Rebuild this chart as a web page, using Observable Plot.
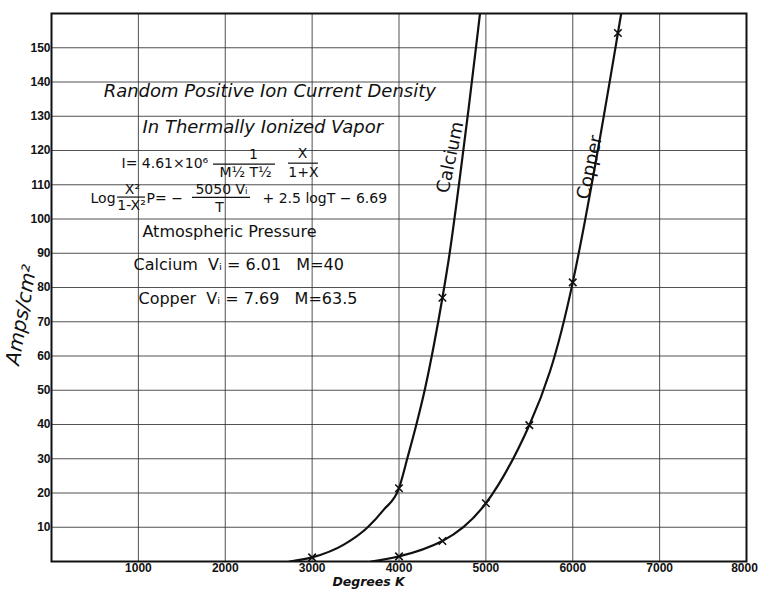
<!DOCTYPE html>
<html>
<head>
<meta charset="utf-8">
<script src="https://cdn.jsdelivr.net/npm/d3@7"></script>
<script src="https://cdn.jsdelivr.net/npm/@observablehq/plot@0.6"></script>
<style>
  html, body { margin: 0; padding: 0; background: #fff; }
  #chart svg { display: block; }
</style>
</head>
<body>
<div id="chart"></div>
<script>
// ---- data (Degrees K vs Amps/cm²) ----
const calciumT = [2740, 3000, 3370, 3640, 3820, 4000, 4100, 4200, 4300, 4400, 4500, 4583, 4700, 4800, 4900, 4960];
const calciumI = [0, 1.2, 5, 10, 15, 21.4, 30.5, 40, 50.5, 63, 77, 90, 112, 132, 153, 166];
const copperT = [3680, 4000, 4500, 5000, 5500, 6000, 6520, 6570];
const copperI = [0, 1.5, 6, 17, 39.8, 81.5, 154.3, 161];
const calciumMarkT = [3000, 4000, 4500];
const calciumMarkI = [1.2, 21.4, 77];
const copperMarkT = [4000, 4500, 5000, 5500, 6000, 6520];
const copperMarkI = [1.5, 6, 17, 39.8, 81.5, 154.3];

const xTicks = [1000, 2000, 3000, 4000, 5000, 6000, 7000];
const xLastTick = [8000];
const yTicks = [10, 20, 30, 40, 50, 60, 70, 80, 90, 100, 110, 120, 130, 140, 150];
const yGrid = [10, 20, 30, 40, 50, 60, 70, 80, 90, 100, 110, 120, 130, 140, 150];
const xGrid = [1000, 2000, 3000, 4000, 5000, 6000, 7000];

const seriesNames = ["Calcium", "Copper"];
const titleLines = ["Random Positive Ion Current Density", "In Thermally Ionized Vapor"];
const formulaText = ["I= 4.61×10⁶", "1", "M½ T½", "X", "1+X",
  "Log", "X²", "1-X²", "P= −", "5050 Vᵢ", "T", "+ 2.5 logT − 6.69"];
const infoLines = ["Atmospheric Pressure", "Calcium  Vᵢ = 6.01   M=40", "Copper  Vᵢ = 7.69   M=63.5"];

// ---- annotation anchors, in data units (x: Degrees K, y: Amps/cm²) ----
const titleAt = [{x: 600, y: 137.2}, {x: 1047, y: 126.9}];
const formulaAt = [
  {x: 806, y: 116.3, a: "start"}, {x: 2325, y: 118.9, a: "middle"}, {x: 2233, y: 113.7, a: "middle"},
  {x: 2889, y: 119.1, a: "middle"}, {x: 2900, y: 113.7, a: "middle"},
  {x: 449, y: 106.0, a: "start"}, {x: 932, y: 108.6, a: "middle"}, {x: 921, y: 104.0, a: "middle"},
  {x: 1094, y: 106.0, a: "start"}, {x: 1957, y: 108.6, a: "middle"}, {x: 1934, y: 103.4, a: "middle"},
  {x: 2429, y: 106.0, a: "start"}
];
const fractionBars = [
  {x1: 1865, x2: 2578, y: 116.0}, {x1: 2728, x2: 3073, y: 116.3},
  {x1: 760, x2: 1082, y: 106.4}, {x1: 1623, x2: 2291, y: 106.3}
];
const infoAt = [{x: 1047, y: 96.1}, {x: 944, y: 86.5}, {x: 1001, y: 76.8}];
const seriesLabelAt = [{x: 4590, y: 118.0}, {x: 6195, y: 115.1}];

const idx = n => d3.range(n);
const ink = "#111";
const hand = "'DejaVu Sans', 'Liberation Sans', sans-serif";

const chart = Plot.plot({
  width: 760,
  height: 590,
  marginLeft: 51,
  marginRight: 14,
  marginTop: 13,
  marginBottom: 29,
  style: {fontFamily: "'Liberation Sans', 'DejaVu Sans', sans-serif", background: "#fff", color: ink},
  x: {domain: [0, 8000], label: null},
  y: {domain: [0, 160], label: null},
  marks: [
    Plot.ruleX(xGrid, {stroke: "#333", strokeWidth: 1, strokeOpacity: 0.85}),
    Plot.ruleY(yGrid, {stroke: "#333", strokeWidth: 1, strokeOpacity: 0.85}),
    Plot.axisX({ticks: xTicks, tickFormat: d => String(d), tickSize: 0, tickPadding: 2, fontSize: 12, fontWeight: "bold", label: null}),
    Plot.axisX({ticks: xLastTick, tickFormat: d => String(d), tickSize: 0, tickPadding: 2, fontSize: 12, fontWeight: "bold", label: null, dx: -2}),
    Plot.axisY({ticks: yTicks, tickFormat: d => String(d), tickSize: 0, tickPadding: 1, fontSize: 12, fontWeight: "bold", label: null}),
    Plot.frame({stroke: ink, strokeWidth: 2}),
    Plot.line(idx(calciumT.length), {x: i => calciumT[i], y: i => calciumI[i], curve: "monotone-x", stroke: ink, strokeWidth: 2.2, clip: true}),
    Plot.line(idx(copperT.length), {x: i => copperT[i], y: i => copperI[i], curve: "natural", stroke: ink, strokeWidth: 2.2, clip: true}),
    Plot.dot(idx(calciumMarkT.length), {x: i => calciumMarkT[i], y: i => calciumMarkI[i], symbol: "times", r: 3.5, stroke: ink, strokeWidth: 1.6}),
    Plot.dot(idx(copperMarkT.length), {x: i => copperMarkT[i], y: i => copperMarkI[i], symbol: "times", r: 3.5, stroke: ink, strokeWidth: 1.6}),
    // title lines
    Plot.text(idx(titleLines.length), {x: i => titleAt[i].x, y: i => titleAt[i].y, text: i => titleLines[i],
      textAnchor: "start", fontSize: 18, fontStyle: "italic", fontFamily: hand, fill: ink}),
    // formulas
    Plot.text(idx(formulaText.length), {x: i => formulaAt[i].x, y: i => formulaAt[i].y, text: i => formulaText[i],
      textAnchor: "start", fontSize: 14, fontFamily: hand, fill: ink}),
    Plot.ruleY(fractionBars, {x1: "x1", x2: "x2", y: "y", stroke: ink, strokeWidth: 1.2}),
    // info lines
    Plot.text(idx(infoLines.length), {x: i => infoAt[i].x, y: i => infoAt[i].y, text: i => infoLines[i],
      textAnchor: "start", fontSize: 16, fontFamily: hand, fill: ink}),
    // curve labels
    Plot.text(idx(seriesNames.length), {x: i => seriesLabelAt[i].x, y: i => seriesLabelAt[i].y, text: i => seriesNames[i],
      rotate: -78, fontSize: 18, fontFamily: hand, fill: ink}),
    // axis titles
    Plot.text(["Degrees K"], {x: [3650], frameAnchor: "bottom", dy: 24.5, text: d => d, fontSize: 12.5, fontWeight: "bold", fontStyle: "italic", fontFamily: hand, fill: ink}),
    Plot.text(["Amps/cm²"], {y: [72], frameAnchor: "left", textAnchor: "middle", dx: -30, rotate: -80, text: d => d, fontSize: 20, fontStyle: "italic", fontFamily: hand, fill: ink})
  ]
});

// per-item anchors for the formula pieces
chart.querySelectorAll("g[aria-label='text']").forEach(g => {
  const texts = g.querySelectorAll("text");
  if (texts.length === formulaText.length) {
    texts.forEach((t, i) => t.setAttribute("text-anchor", formulaAt[i].a));
  }
});

document.getElementById("chart").appendChild(chart);
</script>
</body>
</html>
